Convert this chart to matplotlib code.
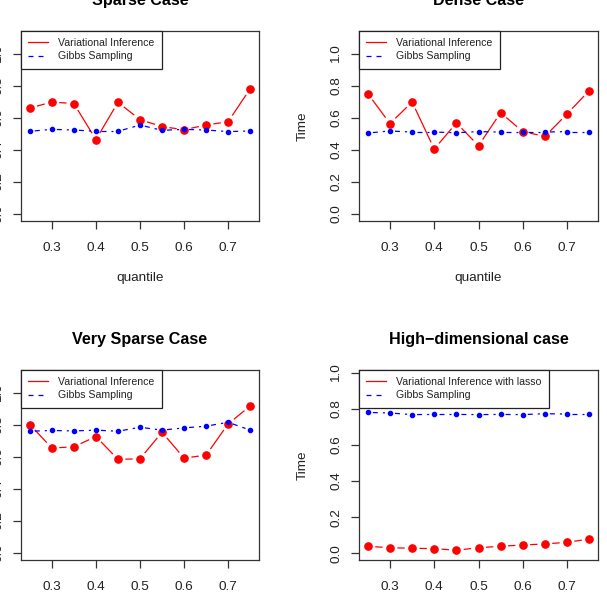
import numpy as np
import matplotlib
matplotlib.use("Agg")
import matplotlib.pyplot as plt
from matplotlib.lines import Line2D

plt.rcParams['font.family'] = ['Liberation Sans', 'DejaVu Sans']

# quantiles on the x axis
quantile = [0.25, 0.30, 0.35, 0.40, 0.45, 0.50, 0.55, 0.60, 0.65, 0.70, 0.75]

# Sparse case
sparse_vi = [0.662, 0.700, 0.690, 0.465, 0.698, 0.590, 0.546, 0.527, 0.556, 0.577, 0.783]
sparse_gibbs = [0.517, 0.529, 0.525, 0.517, 0.517, 0.556, 0.523, 0.529, 0.525, 0.515, 0.519]

# Dense case
dense_vi = [0.752, 0.565, 0.700, 0.406, 0.569, 0.427, 0.633, 0.515, 0.485, 0.625, 0.771]
dense_gibbs = [0.506, 0.519, 0.512, 0.512, 0.508, 0.515, 0.512, 0.512, 0.512, 0.515, 0.515]

# Very sparse case
vsparse_vi = [0.803, 0.656, 0.664, 0.728, 0.585, 0.589, 0.755, 0.593, 0.612, 0.807, 0.919]
vsparse_gibbs = [0.761, 0.766, 0.763, 0.768, 0.761, 0.786, 0.768, 0.782, 0.793, 0.817, 0.768]

# High-dimensional case
hd_vi = [0.039, 0.031, 0.028, 0.026, 0.017, 0.031, 0.039, 0.046, 0.052, 0.061, 0.079]
hd_gibbs = [0.780, 0.777, 0.768, 0.769, 0.769, 0.768, 0.769, 0.768, 0.773, 0.771, 0.771]

W, H = 607, 600
fig = plt.figure(figsize=(W / 100, H / 100), dpi=100)


def px_axes(left, top, right, bottom):
    return fig.add_axes([left / W, 1 - bottom / H, (right - left) / W, (bottom - top) / H])


def b_line(ax, x, y, gap, **kw):
    # R style type="b": line segments stop short of the points
    pts = ax.transData.transform(np.column_stack([x, y]))
    inv = ax.transData.inverted()
    for p0, p1 in zip(pts[:-1], pts[1:]):
        d = p1 - p0
        L = np.hypot(*d)
        if L <= 2 * gap:
            continue
        u = d / L
        a = inv.transform(p0 + u * gap)
        b = inv.transform(p1 - u * gap)
        ax.plot([a[0], b[0]], [a[1], b[1]], **kw)


def panel(ax, vi, gibbs, title, vi_label, ylim, xlabel=True, ylabel=True):
    ax.set_xlim(0.23, 0.77)
    ax.set_ylim(*ylim)
    ax.set_xticks([0.3, 0.4, 0.5, 0.6, 0.7])
    ax.set_yticks([0.0, 0.2, 0.4, 0.6, 0.8, 1.0])
    for s in ax.spines.values():
        s.set_linewidth(0.9)
        s.set_color('#333333')
    ax.tick_params(axis='both', length=6, width=0.9, color='#333333',
                   labelsize=9.7, labelcolor='#222222')
    ax.tick_params(axis='x', pad=9)
    ax.tick_params(axis='y', labelrotation=90, pad=6)
    for lab in ax.get_yticklabels():
        lab.set_verticalalignment('center')

    b_line(ax, quantile, vi, 8, color='red', lw=0.9)
    ax.plot(quantile, vi, 'o', color='red', ms=5.2, mec='red', zorder=3)
    b_line(ax, quantile, gibbs, 5, color='blue', lw=0.9, dashes=(4, 4))
    ax.plot(quantile, gibbs, 'o', color='blue', ms=3.0, mec='blue', zorder=4)

    ax.set_title(title, fontsize=11.6, fontweight='bold', pad=19)
    if xlabel:
        ax.set_xlabel('quantile', fontsize=9.7, color='#222222')
        ax.xaxis.set_label_coords(0.5, -57 / 190)
        ax.xaxis.label.set_verticalalignment('center')
    if ylabel:
        ax.set_ylabel('Time', fontsize=9.7, color='#222222')
        ax.yaxis.set_label_coords(-56 / 239, 0.5)
        ax.yaxis.label.set_verticalalignment('center')

    handles = [Line2D([], [], color='red', lw=0.9),
               Line2D([], [], color='blue', lw=0.9, dashes=(4, 4))]
    leg = ax.legend(handles, [vi_label, 'Gibbs Sampling'], loc='upper left',
                    bbox_to_anchor=(0, 1), borderaxespad=0, fancybox=False,
                    framealpha=1, edgecolor='#222222', fontsize=7.6,
                    handlelength=1.9, handletextpad=0.95, labelspacing=0.3,
                    borderpad=0.68)
    leg.get_frame().set_linewidth(0.9)
    for t in leg.get_texts():
        t.set_color('#222222')


ylim_std = (-0.044, 1.144)
ax1 = px_axes(21, 31, 259, 221)
panel(ax1, sparse_vi, sparse_gibbs, 'Sparse Case', 'Variational Inference', ylim_std)
ax2 = px_axes(359, 31, 598, 221)
panel(ax2, dense_vi, dense_gibbs, 'Dense Case', 'Variational Inference', ylim_std)
ax3 = px_axes(21, 370, 259, 560)
panel(ax3, vsparse_vi, vsparse_gibbs, 'Very Sparse Case', 'Variational Inference',
      ylim_std, xlabel=False)
ax4 = px_axes(359, 370, 598, 560)
panel(ax4, hd_vi, hd_gibbs, 'High\u2212dimensional case',
      'Variational Inference with lasso', (-0.037, 1.015), xlabel=False)

fig.savefig('out.png', dpi=100, facecolor='white')
